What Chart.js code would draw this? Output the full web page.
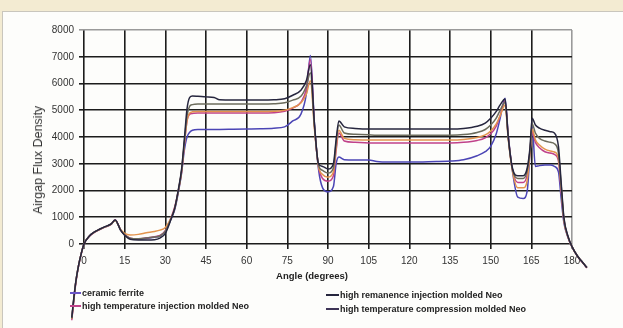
<!DOCTYPE html>
<html>
<head>
<meta charset="utf-8">
<script src="https://cdn.jsdelivr.net/npm/chart.js@4"></script>
<style>
  html, body { margin: 0; padding: 0; }
  body { width: 623px; height: 328px; background: #f3ebd2; position: relative; overflow: hidden; font-family: "Liberation Sans", Arial, sans-serif; }
  #panel { position: absolute; left: 2px; top: 11px; width: 621px; height: 317px; background: #fdfdfb; border-left: 1px solid #c9c6bd; border-top: 1px solid #c9c6bd; }
  #wrap { position: absolute; left: 0; top: 0; width: 623px; height: 328px; }
  .ytitle { position: absolute; left: 38px; top: 160px; transform: translate(-50%, -50%) rotate(-90deg); font-size: 12.5px; color: #333; white-space: nowrap; }
  .xtitle { position: absolute; left: 312px; top: 275px; transform: translate(-50%, -50%); font-size: 9.5px; font-weight: bold; color: #222; white-space: nowrap; }
  .lg { position: absolute; font-size: 9px; font-weight: bold; color: #222; white-space: nowrap; transform: translateY(-50%); }
  .mk { position: absolute; height: 1.5px; }
</style>
</head>
<body>
<div id="panel"></div>
<div id="wrap"><canvas id="c" width="623" height="328"></canvas></div>
<div class="ytitle">Airgap Flux Density</div>
<div class="xtitle">Angle (degrees)</div>
<div id="legend"></div>
<script>
// Angle sample positions (degrees)
const angles = [-4.5, -4, -3, -2, -1, 0,
  2, 4, 6, 8, 10,
  11.5, 13.5, 15, 17, 20,
  23, 26, 28, 30, 32,
  33.5, 35, 36, 37, 38,
  39, 40, 42, 45, 48,
  50, 55, 60, 65, 70,
  74, 77, 80, 82, 83.5,
  85, 86.5, 88, 90, 92,
  93, 94, 96, 100, 105,
  108, 110, 115, 120, 125,
  130, 135, 140, 145, 148,
  150, 152, 153.5, 155.3, 156.5,
  158, 160, 162, 163.5, 164.5,
  165.3, 166.5, 168, 170, 172,
  173.5, 175, 176, 177, 178.5,
  180, 182, 184, 185.5];

const highRemanenceInjection = [-2750, -2250, -1400, -800, -350, 0,
  300, 460, 570, 660, 750,
  900, 520, 330, 180, 150,
  150, 160, 220, 400, 900,
  1350, 2150, 2800, 3900, 5050,
  5480, 5530, 5520, 5500, 5480,
  5390, 5380, 5380, 5380, 5390,
  5430, 5560, 5750, 6100, 6700,
  4500, 3000, 2900, 2800, 3000,
  3900, 4600, 4380, 4320, 4300,
  4300, 4300, 4300, 4300, 4300,
  4300, 4300, 4320, 4400, 4520,
  4700, 4950, 5200, 5420, 4000,
  2850, 2550, 2550, 2850, 3600,
  4700, 4450, 4330, 4250, 4200,
  4150, 3650, 2300, 1000, 300,
  -100, -450, -700, -880];

const htCompression = [-2780, -2280, -1400, -800, -350, 0,
  300, 450, 560, 650, 740,
  890, 520, 340, 220, 200,
  220, 260, 300, 480, 920,
  1350, 2100, 2750, 3800, 4800,
  5150, 5210, 5230, 5230, 5230,
  5230, 5230, 5230, 5230, 5240,
  5280, 5380, 5520, 5900, 6400,
  4400, 2950, 2750, 2650, 2850,
  3800, 4450, 4150, 4100, 4080,
  4070, 4070, 4070, 4070, 4070,
  4070, 4070, 4090, 4170, 4280,
  4450, 4700, 5000, 5300, 3950,
  2800, 2450, 2450, 2750, 3500,
  4500, 4150, 3950, 3850, 3800,
  3750, 3400, 2200, 950, 280,
  -100, -450, -700, -880];

const otherNeo = [-2800, -2300, -1400, -800, -350, 0,
  300, 450, 560, 650, 740,
  880, 540, 400, 340, 360,
  420, 470, 520, 620, 950,
  1350, 2100, 2700, 3700, 4600,
  4900, 4940, 4950, 4950, 4950,
  4950, 4950, 4950, 4950, 4960,
  5000, 5100, 5270, 5600, 6100,
  4300, 2900, 2600, 2500, 2700,
  3600, 4250, 3950, 3900, 3890,
  3890, 3890, 3890, 3890, 3890,
  3890, 3890, 3910, 3980, 4080,
  4220, 4480, 4800, 5200, 3900,
  2750, 2100, 2100, 2400, 3400,
  4300, 3900, 3700, 3550, 3480,
  3440, 3200, 2100, 900, 270,
  -100, -450, -700, -880];

const htInjection = [-2850, -2350, -1450, -820, -360, 0,
  290, 440, 550, 640, 730,
  910, 530, 350, 220, 200,
  230, 270, 320, 500, 950,
  1400, 2100, 2700, 3700, 4600,
  4850, 4880, 4900, 4900, 4900,
  4900, 4900, 4900, 4900, 4910,
  4960, 5080, 5300, 5800, 6900,
  4400, 2900, 2450, 2350, 2550,
  3500, 4150, 3850, 3800, 3780,
  3780, 3780, 3780, 3780, 3780,
  3780, 3780, 3800, 3870, 3970,
  4120, 4400, 4800, 5350, 4000,
  2800, 2300, 2300, 2600, 3450,
  4200, 3800, 3600, 3450, 3400,
  3350, 3100, 2000, 900, 260,
  -110, -460, -710, -900];

const ceramicFerrite = [-2800, -2300, -1400, -800, -350, 0,
  300, 450, 560, 650, 740,
  900, 520, 340, 210, 190,
  210, 250, 300, 470, 920,
  1300, 2050, 2650, 3500, 4000,
  4180, 4250, 4280, 4280, 4280,
  4280, 4290, 4300, 4310, 4330,
  4380, 4600, 4850, 5600, 7050,
  4500, 2800, 2100, 1950, 2150,
  3000, 3250, 3150, 3140, 3140,
  3080, 3070, 3070, 3070, 3070,
  3080, 3100, 3150, 3300, 3450,
  3650, 4100, 4700, 5450, 4050,
  2750, 1750, 1700, 2000, 3400,
  4400, 2900, 2930, 2950, 2950,
  2900, 2700, 1700, 800, 250,
  -100, -450, -700, -880];

const xTicks = [0, 15, 30, 45, 60, 75, 90, 105, 120, 135, 150, 165, 180];
const yTicks = [0, 1000, 2000, 3000, 4000, 5000, 6000, 7000, 8000];

const legendItems = [
  { label: "ceramic ferrite", color: "#6a55c8", x: 70, y: 293, w: 11 },
  { label: "high temperature injection molded Neo", color: "#c0428a", x: 70, y: 306, w: 11 },
  { label: "high remanence injection molded Neo", color: "#26263e", x: 326, y: 295, w: 13 },
  { label: "high temperature compression molded Neo", color: "#3e3456", x: 326, y: 309, w: 13 }
];

const series = [
  { data: highRemanenceInjection, color: "#26263e" },
  { data: htCompression, color: "#6c6c5c" },
  { data: otherNeo, color: "#e3944e" },
  { data: htInjection, color: "#c0428a" },
  { data: ceramicFerrite, color: "#4b45b5" }
];

const lg = document.getElementById('legend');
legendItems.forEach(it => {
  const m = document.createElement('div');
  m.className = 'mk';
  m.style.left = it.x + 'px'; m.style.top = (it.y - 1) + 'px'; m.style.width = it.w + 'px'; m.style.background = it.color;
  lg.appendChild(m);
  const t = document.createElement('div');
  t.className = 'lg';
  t.style.left = (it.x + it.w + 1) + 'px'; t.style.top = it.y + 'px';
  t.textContent = it.label;
  lg.appendChild(t);
});

new Chart(document.getElementById('c'), {
  type: 'line',
  data: {
    datasets: series.map(s => ({
      data: angles.map((a, i) => ({ x: a, y: s.data[i] })),
      borderColor: s.color,
      borderWidth: 1.5,
      pointRadius: 0,
      fill: false,
      clip: false,
      cubicInterpolationMode: 'monotone'
    }))
  },
  options: {
    responsive: false,
    animation: false,
    events: [],
    layout: { padding: { left: 0, top: 30, right: 51, bottom: 54 } },
    plugins: { legend: { display: false }, tooltip: { enabled: false } },
    scales: {
      x: {
        type: 'linear',
        afterDataLimits: s => { s.min = xTicks[0]; s.max = xTicks[xTicks.length - 1]; },
        afterBuildTicks: s => { s.ticks = xTicks.map(v => ({ value: v })); },
        afterFit: s => { s.height = 30; },
        grid: {
          color: c => (c.tick && c.tick.value === 180) ? '#9a9a9a' : '#1c1c1c',
          lineWidth: 1.6,
          tickLength: 5,
          drawTicks: true
        },
        border: { display: false },
        ticks: { padding: 6, color: '#333', font: { family: 'Liberation Sans', size: 10 }, maxRotation: 0, autoSkip: false, callback: v => String(v) }
      },
      y: {
        type: 'linear',
        afterDataLimits: s => { s.min = yTicks[0]; s.max = yTicks[yTicks.length - 1]; },
        afterBuildTicks: s => { s.ticks = yTicks.map(v => ({ value: v })); },
        afterFit: s => { s.width = 84; },
        grid: {
          color: c => (c.tick && c.tick.value === 8000) ? '#9a9a9a' : '#1c1c1c',
          lineWidth: 1.6,
          tickLength: 5
        },
        border: { display: false },
        ticks: { padding: 5, color: '#333', font: { family: 'Liberation Sans', size: 10 }, autoSkip: false, callback: v => String(v) }
      }
    }
  }
});
</script>
</body>
</html>
